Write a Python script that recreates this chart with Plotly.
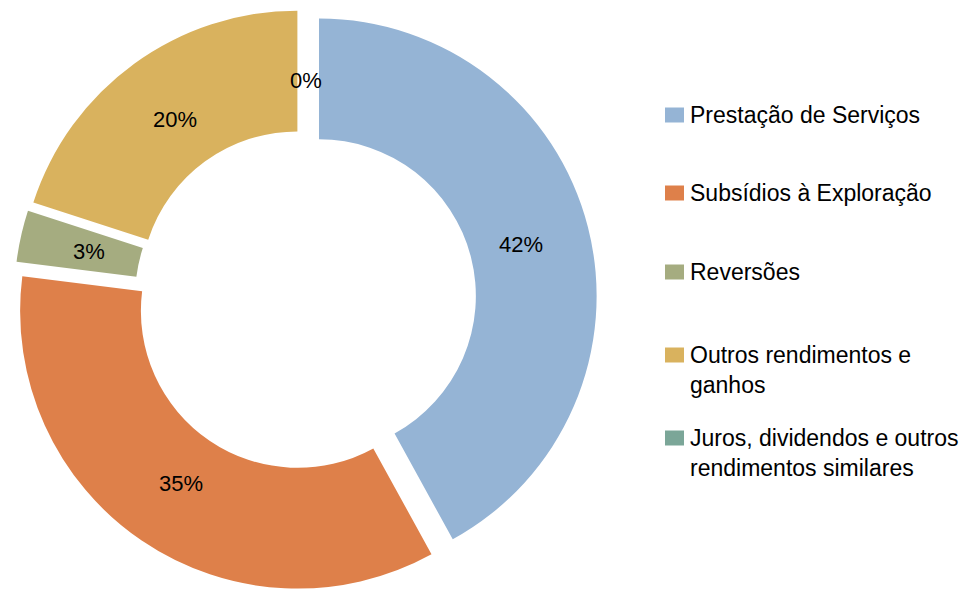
import math
import plotly.graph_objects as go

# ---- data ----
labels = [
    "Prestação de Serviços",
    "Subsídios à Exploração",
    "Reversões",
    "Outros rendimentos e<br>ganhos",
    "Juros, dividendos e outros<br>rendimentos similares",
]
values = [42, 35, 3, 20, 0]
colors = ["#95B4D5", "#DE804A", "#A5AC80", "#D9B25E", "#7BA698"]

W, H = 970, 591
FONT = "Arial, Liberation Sans, sans-serif"
PULL = 0.05
HOLE = 0.565
DOM_X = [0, 0.63]
DOM_Y = [0, 0.9865]
LABEL_R = 0.75       # label distance as fraction of outer radius
ZERO_LABEL_R = 0.79  # label distance for zero-size slices

total = sum(values)
pct_text = [f"{round(100 * v / total)}%" for v in values]

fig = go.Figure()
fig.add_trace(go.Pie(
    labels=labels,
    values=values,
    textinfo="none",
    marker=dict(colors=colors, line=dict(width=0)),
    hole=HOLE,
    pull=[PULL] * len(values),
    sort=False,
    direction="clockwise",
    rotation=0,
    domain=dict(x=DOM_X, y=DOM_Y),
    showlegend=False,
    hoverinfo="label+percent",
))

# pie geometry (same as plotly's own layout of the pie)
box_w = W * (DOM_X[1] - DOM_X[0])
box_h = H * (DOM_Y[1] - DOM_Y[0])
R = min(box_w, box_h) / (2 + 2 * PULL)
cx = W * (DOM_X[0] + DOM_X[1]) / 2
cy = H * (1 - DOM_Y[0]) - box_h / 2

annotations = []
shapes = []

# data labels at each slice's mid-angle
cum = 0.0
for v, t in zip(values, pct_text):
    mid = (cum + v / 2) / total * 2 * math.pi
    cum += v
    dist = (PULL + LABEL_R) * R if v > 0 else ZERO_LABEL_R * R
    px = cx + dist * math.sin(mid)
    py = cy - dist * math.cos(mid)
    annotations.append(dict(
        x=px / W, y=1 - py / H, xref="paper", yref="paper",
        text=t, showarrow=False, xanchor="center", yanchor="middle",
        font=dict(family=FONT, size=22, color="#000000"),
    ))

# custom legend
row_first_line_y = [115, 193, 272, 355, 438]
line_h = 29.5
for lab, col, y0 in zip(labels, colors, row_first_line_y):
    n = lab.count("<br>") + 1
    yc = y0 + (n - 1) * line_h / 2
    annotations.append(dict(
        x=688 / W, y=1 - yc / H, xref="paper", yref="paper",
        text=lab, showarrow=False, xanchor="left", yanchor="middle",
        align="left", font=dict(family=FONT, size=23, color="#000000"),
    ))
    shapes.append(dict(
        type="rect", xref="paper", yref="paper",
        x0=665 / W, x1=684 / W, y0=1 - (y0 - 7.5) / H, y1=1 - (y0 + 7.5) / H,
        fillcolor=col, line=dict(width=0),
    ))

fig.update_layout(
    width=W, height=H,
    margin=dict(l=0, r=0, t=0, b=0),
    paper_bgcolor="white",
    plot_bgcolor="white",
    annotations=annotations,
    shapes=shapes,
)

fig.write_html("out.html")
